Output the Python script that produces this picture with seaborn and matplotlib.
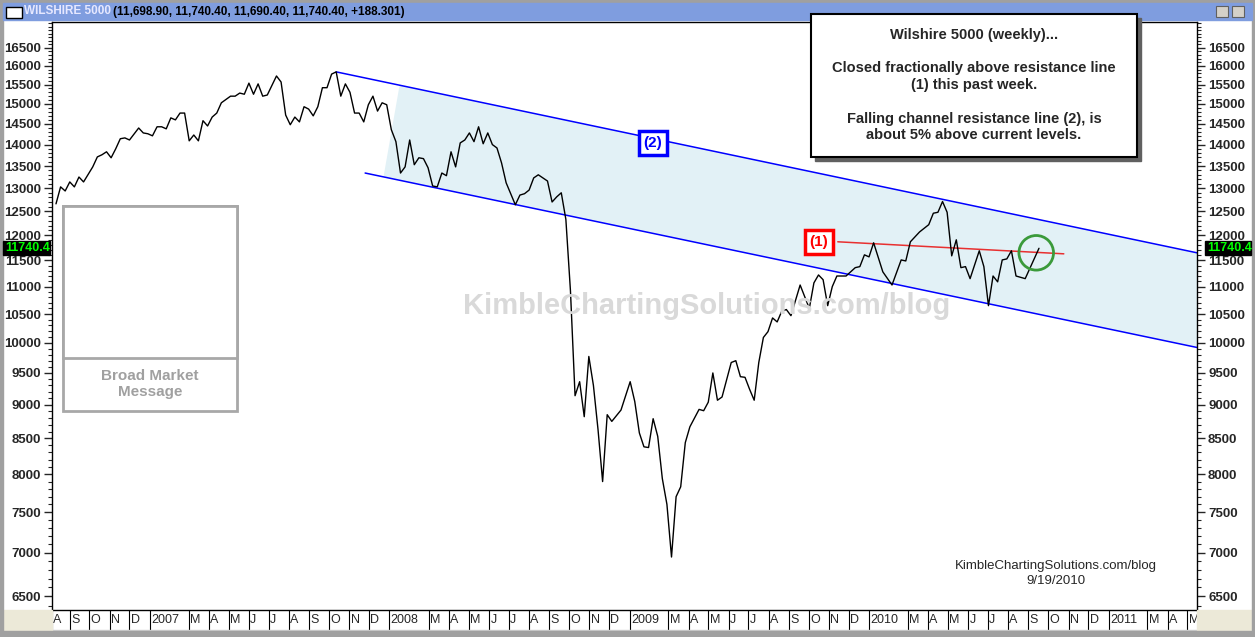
import numpy as np
import pandas as pd
import matplotlib
matplotlib.use('Agg')
import matplotlib.pyplot as plt
import matplotlib.ticker as mticker
import matplotlib.transforms as mtrans
from matplotlib.patches import Rectangle
import seaborn as sns

# weekly closes (week number counted from 2006-08-11)
start_date = pd.Timestamp('2006-08-11')
weeks = [0, 1, 2, 3, 4, 5, 6, 8, 9, 10, 11, 12, 13, 14, 15, 16, 18, 19, 20, 21,
         22, 23, 24, 25, 26, 27, 28, 29, 30, 31, 32, 33, 34, 35, 36, 38, 39, 40, 41, 42,
         43, 44, 45, 46, 48, 49, 50, 51, 52, 53, 54, 55, 56, 57, 58, 59, 60, 61, 62, 63,
         64, 65, 66, 67, 68, 69, 70, 71, 72, 73, 74, 75, 76, 77, 78, 79, 80, 81, 82, 83,
         84, 85, 86, 87, 88, 89, 90, 91, 92, 93, 94, 95, 96, 97, 98, 100, 101, 102, 103, 104,
         105, 107, 108, 109, 110, 111, 112, 113, 114, 115, 116, 117, 118, 119, 120, 121, 123, 125, 126, 127,
         128, 129, 130, 131, 132, 133, 134, 135, 136, 137, 138, 140, 141, 142, 143, 144, 145, 147, 148, 149,
         150, 151, 152, 153, 154, 155, 156, 157, 158, 159, 160, 162, 164, 165, 166, 167, 168, 169, 170, 172,
         174, 175, 176, 177, 178, 180, 182, 184, 185, 186, 188, 190, 191, 192, 193, 194, 195, 196, 197, 198,
         199, 201, 202, 203, 204, 205, 206, 207, 208, 209, 211, 214]
closes = [12660, 13030, 12940, 13140, 13030, 13250, 13140, 13480, 13710, 13760, 13830, 13690, 13900, 14140, 14160, 14110, 14400, 14280, 14260, 14210,
          14430, 14430, 14380, 14650, 14600, 14770, 14770, 14090, 14230, 14090, 14580, 14450, 14670, 14770, 15030, 15200, 15200, 15280, 15250, 15540,
          15250, 15520, 15200, 15230, 15730, 15570, 14720, 14480, 14670, 14550, 14930, 14870, 14700, 14930, 15420, 15420, 15780, 15840, 15200, 15520,
          15300, 14770, 14770, 14550, 14980, 15200, 14820, 15030, 14980, 14360, 14070, 13340, 13480, 14110, 13530, 13690, 13670, 13460, 13050, 13030,
          13340, 13280, 13830, 13480, 14040, 14110, 14280, 14070, 14430, 14020, 14280, 14000, 13920, 13570, 13120, 12640, 12850, 12880, 12960, 13230,
          13300, 13160, 12700, 12810, 12900, 12330, 10920, 9140, 9360, 8820, 9770, 9300, 8630, 7900, 8850, 8750, 8920, 9360, 9050, 8580,
          8380, 8370, 8790, 8530, 7940, 7600, 6950, 7700, 7830, 8440, 8670, 8930, 8910, 9040, 9500, 9070, 9120, 9670, 9700, 9440,
          9430, 9240, 9070, 9670, 10090, 10190, 10430, 10360, 10550, 10580, 10470, 11030, 10600, 11070, 11220, 11130, 10650, 11000, 11200, 11200,
          11360, 11380, 11610, 11570, 11850, 11280, 11030, 11510, 11490, 11870, 12070, 12220, 12460, 12480, 12710, 12480, 11590, 11910, 11360, 11380,
          11150, 11690, 11380, 10650, 11200, 11090, 11510, 11530, 11690, 11200, 11150, 11740]

# channel lines (2) and resistance line (1): endpoints in weeks / values
upper_weeks, upper_vals = [61, 248.4], [15840, 11650]
lower_weeks, lower_vals = [67.3, 248.4], [13340, 9920]
shade_top_week, shade_bot_week = 74.8, 71.3
res_weeks, res_vals = [170.2, 219.4], [11870, 11630]
circle_week, circle_val = 213.4, 11650
last_close = 11740.4

y_ticks = list(range(6500, 17000, 500))
x_lim_weeks = [-0.87, 248.4]
y_lim = [6352, 17240]

def to_date(w):
    return start_date + pd.to_timedelta(np.asarray(w, dtype=float) * 7, unit='D')

df = pd.DataFrame({'date': to_date(weeks), 'close': closes})

W, H = 1255, 637
fig = plt.figure(figsize=(W / 100, H / 100), dpi=100, facecolor='white')
sns.set_style('white')
plt.rcParams['font.family'] = ['Liberation Sans', 'DejaVu Sans']

ax = fig.add_axes([52 / W, 1 - 610 / H, (1197 - 52) / W, (610 - 22) / H])
ax.set_yscale('log')

# shaded falling channel (straight lines in log space)
def line_at(ws, vs, w):
    lv = np.interp(w, ws, np.log(vs))
    return np.exp(lv)

sw = np.linspace(shade_top_week, 248.4, 50)
bw = np.linspace(shade_bot_week, 248.4, 50)
poly_w = np.concatenate([sw, bw[::-1]])
poly_v = np.concatenate([line_at(upper_weeks, upper_vals, sw), line_at(lower_weeks, lower_vals, bw)[::-1]])
ax.fill(to_date(poly_w), poly_v, color='#e2f1f6', lw=0, zorder=0)

ax.plot(to_date(upper_weeks), upper_vals, color='#0000ff', lw=1.1, zorder=2)
ax.plot(to_date(lower_weeks), lower_vals, color='#0000ff', lw=1.1, zorder=2)
ax.plot(to_date(res_weeks), res_vals, color='#e83030', lw=1.1, zorder=2)

sns.lineplot(data=df, x='date', y='close', ax=ax, color='black', lw=1.0, zorder=3)
ax.scatter(to_date([circle_week]), [circle_val], s=620, facecolors='none',
           edgecolors='#3a9a3a', linewidths=2, zorder=4)

ax.set_xlim(to_date(x_lim_weeks))
ax.set_ylim(y_lim)
ax.set_xlabel('')
ax.set_ylabel('')

# y axis both sides
ax.yaxis.set_major_locator(mticker.FixedLocator(y_ticks))
ax.yaxis.set_major_formatter(mticker.FixedFormatter([str(t) for t in y_ticks]))
ax.yaxis.set_minor_locator(mticker.FixedLocator(list(range(6400, 17300, 100))))
ax.yaxis.set_minor_formatter(mticker.NullFormatter())
ax.tick_params(axis='y', which='major', left=True, right=True, labelleft=True, labelright=True,
               length=6, width=1, direction='out', labelsize=9.5, pad=2)
ax.tick_params(axis='y', which='minor', left=True, right=True, length=3, width=0.8, direction='out')
for lab in ax.get_yticklabels():
    lab.set_fontweight('bold')
ax.set_xticks([])
for s in ax.spines.values():
    s.set_color('black')
    s.set_linewidth(1)

# month strip under the chart (February is skipped after the year label)
trans = mtrans.blended_transform_factory(ax.transData, ax.transAxes)
months = [m for m in pd.date_range('2006-08-01', '2011-05-01', freq='MS') if m.month != 2]
xmin = to_date([x_lim_weeks[0]])[0]
for m in months:
    pos = max(m, xmin)
    lab = str(m.year) if m.month == 1 else m.strftime('%b')[0]
    ax.plot([pos, pos], [0, -0.034], color='black', lw=0.8, transform=trans, clip_on=False)
    ax.text(pos + pd.Timedelta(days=2), -0.017, lab, transform=trans, ha='left', va='center',
            fontsize=9, clip_on=False)
ax.plot([xmin, to_date([x_lim_weeks[1]])[0]], [-0.034, -0.034], color='#d0d0d0', lw=1,
        transform=trans, clip_on=False)

# window frame
def frect(x0, y0, x1, y1, **kw):
    fig.patches.append(Rectangle((x0 / W, 1 - y1 / H), (x1 - x0) / W, (y1 - y0) / H,
                                 transform=fig.transFigure, **kw))

frect(0, 610, 52, 631, color='#ece9d8', zorder=1)
frect(1197, 610, 1252, 631, color='#ece9d8', zorder=1)
frect(0, 631, W, H, color='#a0a0a0', zorder=1)
frect(0, 0, 3, H, color='#a0a0a0', zorder=1)
frect(1252, 0, W, H, color='#a0a0a0', zorder=1)
frect(0, 0, W, 3, color='#a0a0a0', zorder=1)
frect(3, 3, 1252, 20, color='#7f9ddf', zorder=1)
frect(6, 7, 22, 18, facecolor='white', edgecolor='black', lw=1, zorder=2)
frect(1216, 6, 1228, 17, facecolor='#d4d0c8', edgecolor='#606060', lw=0.8, zorder=2)
frect(1232, 6, 1244, 17, facecolor='#d4d0c8', edgecolor='#606060', lw=0.8, zorder=2)
fig.text(24 / W, 1 - 11.5 / H, 'WILSHIRE 5000', color='#e6e8ff', fontsize=8.5, fontweight='bold', va='center')
fig.text(113 / W, 1 - 11.5 / H, '(11,698.90, 11,740.40, 11,690.40, 11,740.40, +188.301)',
         color='black', fontsize=8.5, fontweight='bold', va='center')

# last value flags
for x0, x1 in [(3, 50), (1205, 1251)]:
    frect(x0, 241, x1, 255, color='black', zorder=3)
    fig.text((x0 + 2) / W, 1 - 248 / H, f'{last_close:.1f}', color='#00ff00', fontsize=9,
             fontweight='bold', va='center', zorder=4)

# annotations
fig.text(707 / W, 1 - 306 / H, 'KimbleChartingSolutions.com/blog', color='#d9d9d9', fontsize=21,
         fontweight='bold', ha='center', va='center', zorder=1.5)
fig.text(653 / W, 1 - 143 / H, '(2)', color='#0000ff', fontsize=11, fontweight='bold', ha='center', va='center',
         bbox=dict(boxstyle='square,pad=0.3', fc='white', ec='#0000ff', lw=2.5))
fig.text(819 / W, 1 - 242 / H, '(1)', color='#ff0000', fontsize=11, fontweight='bold', ha='center', va='center',
         bbox=dict(boxstyle='square,pad=0.3', fc='white', ec='#ff0000', lw=2.5))

frect(815, 18, 1141, 161, color='#606060', zorder=3)
frect(811, 14, 1137, 157, facecolor='white', edgecolor='black', lw=1.5, zorder=4)
fig.text(974 / W, 1 - 85 / H,
         'Wilshire 5000 (weekly)...\n\nClosed fractionally above resistance line\n(1) this past week.\n\n'
         'Falling channel resistance line (2), is\nabout 5% above current levels.',
         fontsize=10.5, fontweight='bold', ha='center', va='center', linespacing=1.25, zorder=5)

# logo box
frect(63, 206, 237, 411, facecolor='white', edgecolor='#a8a8a8', lw=2, zorder=3)
frect(63, 206, 237, 358, facecolor='white', edgecolor='#a8a8a8', lw=2, zorder=3)
fig.text(150 / W, 1 - 384 / H, 'Broad Market\nMessage', color='#a0a0a0', fontsize=11, fontweight='bold',
         ha='center', va='center', linespacing=1.2, zorder=4)

fig.text(1056 / W, 1 - 566 / H, 'KimbleChartingSolutions.com/blog', fontsize=9.5, ha='center', va='center')
fig.text(1056 / W, 1 - 581 / H, '9/19/2010', fontsize=9.5, ha='center', va='center')

fig.savefig('out.png', dpi=100, facecolor='white')
